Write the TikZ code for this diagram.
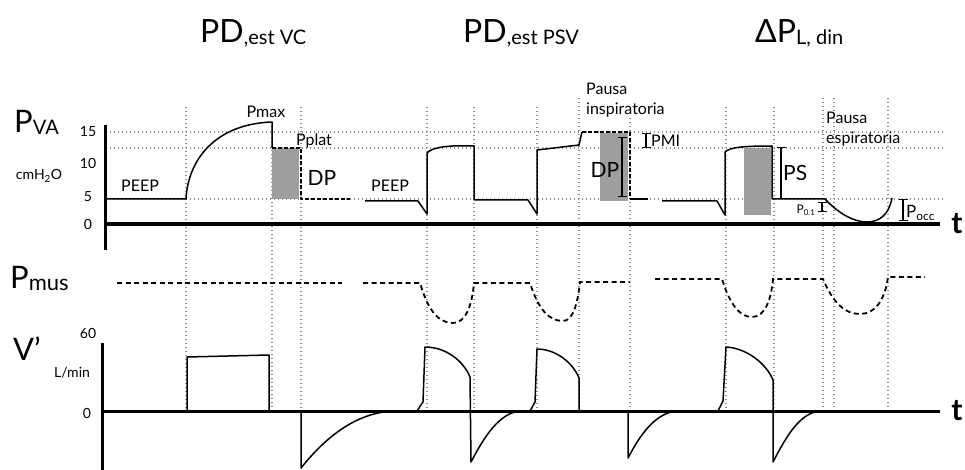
\documentclass[tikz,border=0pt]{standalone}
\usepackage{fontspec}
\setmainfont{Lato}
\usetikzlibrary{arrows.meta}
\newcommand\lowsub[2][20]{\raisebox{-2pt}{\fontsize{#1}{#1}\selectfont #2}}
\colorlet{grid edge}{black!45}
\colorlet{pause area}{black!38}
\tikzset{
  gridline/.style={draw=grid edge, line width=1.2pt, dash pattern=on 1.2pt off 2.8pt},
  axisline/.style={draw=black, line width=3pt},
  wave/.style={draw=black, line width=1.5pt, line join=round},
  musc/.style={draw=black, line width=1.8pt, dash pattern=on 5pt off 3.5pt},
  pausefill/.style={fill=pause area},
  gap/.style={draw=black, line width=1.3pt, {Bar[width=9pt]-Bar[width=9pt]}},
  title/.style={font=\fontsize{32}{32}\selectfont, inner sep=0pt},
  rowlabel/.style={font=\fontsize{31}{31}\selectfont, inner sep=0pt},
  tick/.style={font=\fontsize{14}{14}\selectfont, inner sep=0pt},
  note/.style={font=\fontsize{16}{20}\selectfont, inner sep=0pt},
  big/.style={font=\fontsize{21}{21}\selectfont, inner sep=0pt},
  tlabel/.style={font=\bfseries\fontsize{30}{30}\selectfont, inner sep=0pt}
}
\begin{document}
\begin{tikzpicture}[x=1pt, y=-1pt]
    \useasboundingbox (0,0) rectangle (965,470);
    \node[title, anchor=base west] (vc) at (200,43) {PD\lowsub{,est VC}};
    \node[title, anchor=base west] (psv) at (463,43) {PD\lowsub{,est PSV}};
    \node[title, anchor=base west] (din) at (755,43) {ΔP\lowsub{L, din}};
    \node[rowlabel, anchor=base west] (pva) at (14,133) {P\lowsub{VA}};
    \node[rowlabel, anchor=base west] (pmus) at (10,288) {P\lowsub[22]{mus}};
    \node[rowlabel, anchor=base west] (vflow) at (13,360) {V’};
    \node[tick] (p15) at (88,132) {15};
    \node[tick] (p10) at (88,163) {10};
    \node[tick] (p5) at (88,197) {5};
    \node[tick] (p0) at (88,224) {0};
    \node[tick] (punit) at (39,176) {cmH\textsubscript{2}O};
    \node[tick] (v60) at (88,333) {60};
    \node[tick] (vunit) at (72,373) {L/min};
    \node[tick] (v0) at (87,413) {0};
    \draw[gridline] (106,132) -- (945,132) (106,148) -- (945,148) (106,199) -- (945,199);
    \draw[gridline] (186,107) -- (186,408) (272,122) -- (272,408) (301,107) -- (301,408)
      (427,107) -- (427,408) (474,107) -- (474,408) (537,107) -- (537,408)
      (579,98) -- (579,408) (630,118) -- (630,408) (726,107) -- (726,408)
      (774,107) -- (774,408) (823,98) -- (823,408) (834,98) -- (834,408) (888,98) -- (888,408);
    \fill[pausefill] (272,148) rectangle (299,199);
    \fill[pausefill] (600,133) rectangle (628,201);
    \fill[pausefill] (744,148) rectangle (771,215);
    \draw[axisline] (105,125) -- (105,250);
    \draw[axisline] (105,224) -- (940,224);
    \draw[axisline] (102,343) -- (102,470);
    \draw[axisline] (102,411) -- (940,411);
    \node[tlabel] (tp) at (957,224) {t};
    \node[tlabel] (tv) at (957,411) {t};
    \draw[wave] (105,199) -- (186,199) .. controls (188,160) and (215,124) .. (272,122) -- (272,148);
    \draw[wave, dash pattern=on 4pt off 2pt] (272,148) -- (301,148) -- (301,199) -- (350,199);
    \draw[wave] (365,201) -- (418,201) -- (427,214) -- (427,153) .. controls (432,147) and (450,145) .. (474,146)
      -- (474,200) -- (528,200) -- (537,214) -- (537,150) -- (579,145) -- (582,132);
    \draw[wave, dash pattern=on 4pt off 2pt] (582,132) -- (630,132) -- (630,199);
    \draw[wave] (630,199) -- (648,199);
    \draw[wave] (662,201) -- (717,201) -- (725,215) -- (725,152) .. controls (730,147) and (745,146) .. (772,146)
      -- (772,199) -- (825,199) .. controls (840,215) and (855,222) .. (867,222) .. controls (880,222) and (889,214) .. (892,198);
    \draw[gap] (622,137) -- (622,197);
    \draw[gap] (646,133) -- (646,148);
    \draw[gap] (781,147) -- (781,199);
    \draw[gap] (822,202) -- (822,212);
    \draw[gap] (903,199) -- (903,221);
    \node[note] (pmax) at (266,112) {Pmax};
    \node[note] (pplat) at (314,141) {Pplat};
    \node[big] (dpvc) at (322,178) {DP};
    \node[note] (peepvc) at (140,186) {PEEP};
    \node[note] (peeppsv) at (390,186) {PEEP};
    \node[big] (dppsv) at (605,170) {DP};
    \node[note, anchor=west] (pmi) at (651,141) {PMI};
    \node[note, align=left, anchor=north west] (pauseins) at (586,83) {Pausa\\inspiratoria};
    \node[big, anchor=west] (ps) at (783,173) {PS};
    \node[note, font=\fontsize{12}{12}\selectfont] (p01) at (806,210) {P\textsubscript{0.1}};
    \node[note, anchor=west, font=\fontsize{17}{17}\selectfont] (pocc) at (906,213) {P\textsubscript{occ}};
    \node[note, align=left, anchor=north west] (pauseesp) at (826,112) {Pausa\\espiratoria};
    \draw[musc] (117,283) -- (342,283);
    \draw[musc] (363,283) -- (420,283) .. controls (428,310) and (438,323) .. (453,323) .. controls (466,323) and (472,305) .. (474,283)
      -- (530,283) .. controls (538,308) and (548,321) .. (563,321) .. controls (574,321) and (578,300) .. (580,282) -- (630,282);
    \draw[musc] (655,279) -- (722,279) .. controls (730,305) and (740,317) .. (752,317) .. controls (765,317) and (771,300) .. (773,279)
      -- (823,279) .. controls (833,303) and (845,314) .. (860,314) .. controls (875,314) and (885,300) .. (888,277) -- (925,277);
    \draw[wave] (187,411) -- (187,357) -- (269,355) -- (269,411);
    \draw[wave] (301,411) -- (301,468) .. controls (325,438) and (355,413) .. (393,411);
    \draw[wave] (417,411) -- (423,402) -- (425,347) .. controls (445,347) and (463,360) .. (470,377)
      -- (471,462) .. controls (485,435) and (500,413) .. (520,411);
    \draw[wave] (530,411) -- (535,402) -- (537,349) .. controls (556,349) and (573,363) .. (579,378) -- (579,411);
    \draw[wave] (628,411) -- (628,458) .. controls (640,435) and (655,413) .. (677,411);
    \draw[wave] (718,411) -- (723,401) -- (726,347) .. controls (746,348) and (766,363) .. (773,380)
      -- (773,462) .. controls (787,435) and (800,413) .. (820,411);
\end{tikzpicture}
\end{document}
